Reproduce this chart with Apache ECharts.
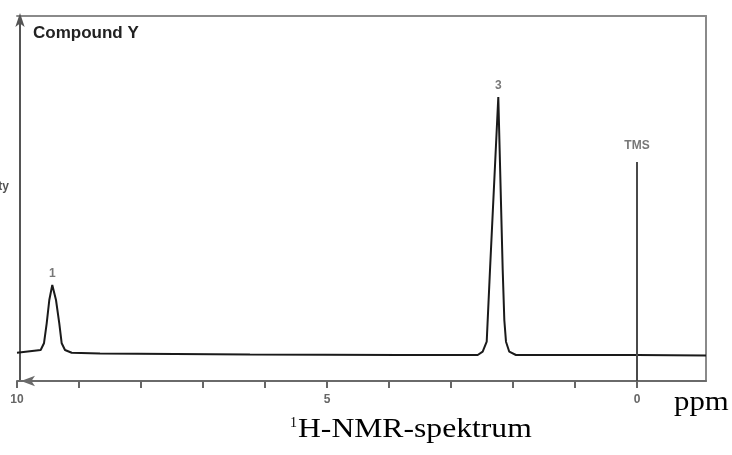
<!DOCTYPE html>
<html><head><meta charset="utf-8">
<script src="https://cdn.jsdelivr.net/npm/echarts@6/dist/echarts.min.js"></script>
<style>html,body{margin:0;padding:0;background:#fff}#c{width:732px;height:455px}</style>
</head><body><div id="c"></div>
<script>
// Spectrum trace: chemical shift (ppm) and intensity (arbitrary units, 0-100)
const spectrumPpm = [10, 9.618, 9.565, 9.521, 9.479, 9.431, 9.371, 9.318, 9.279, 9.226, 9.118, 8.661, 6.242, 3.823, 2.694, 2.569, 2.489, 2.424, 2.408, 2.371, 2.237, 2.166, 2.140, 2.113, 2.060, 1.952, 1.242, 0, -1.113];
const spectrumIntensity = [7.75, 8.49, 10.33, 15.81, 22.19, 26.30, 22.19, 15.81, 10.33, 8.49, 7.75, 7.53, 7.26, 7.12, 7.12, 7.12, 8.03, 10.77, 16.71, 30.41, 77.81, 30.41, 16.71, 10.77, 8.03, 7.12, 7.12, 7.12, 6.99];
// TMS reference line
const tmsPpm = [0, 0];
const tmsIntensity = [60, 0];
// Peak annotations
const peakLabels = ['1', '3', 'TMS'];
const peakPpm = [9.431, 2.237, 0];
const peakIntensity = [26.30, 77.81, 60];
// Axis ticks and labels
const tickValues = [0, 1, 2, 3, 4, 5, 6, 7, 8, 9, 10];
const tickLabelValues = [0, 5, 10];
const xMin = -1.113, xMax = 10;

const chart = echarts.init(document.getElementById('c'), null, {renderer: 'canvas'});
const sans = '"Liberation Sans", Arial, sans-serif';
const serif = '"Liberation Serif", "Times New Roman", serif';

const option = {
  backgroundColor: '#ffffff',
  animation: false,
  grid: {left: 17, right: 26, top: 16, bottom: 74},
  xAxis: [{
    type: 'value', inverse: true, min: xMin, max: xMax, position: 'bottom',
    splitLine: {show: false},
    axisLine: {show: true, onZero: false, lineStyle: {color: '#6a6a6a', width: 2}, symbol: ['arrow', 'none'], symbolSize: [8, 14], symbolOffset: [4, 0]},
    axisTick: {show: true, inside: false, length: 7, customValues: tickValues, lineStyle: {color: '#666', width: 2}},
    axisLabel: {show: true, customValues: tickLabelValues, margin: 13, color: '#666', fontFamily: sans, fontWeight: 'bold', fontSize: 12}
  }, {
    type: 'value', inverse: true, min: xMin, max: xMax, position: 'top',
    splitLine: {show: false},
    axisLine: {show: true, onZero: false, lineStyle: {color: '#8a8a8a', width: 2}},
    axisTick: {show: false}, axisLabel: {show: false}
  }],
  yAxis: [{
    type: 'value', min: 0, max: 100, position: 'left', offset: -3,
    splitLine: {show: false},
    axisLine: {show: true, onZero: false, lineStyle: {color: '#555', width: 2}, symbol: ['none', 'arrow'], symbolSize: [7, 14], symbolOffset: [0, 3]},
    axisTick: {show: false}, axisLabel: {show: false}
  }, {
    type: 'value', min: 0, max: 100, position: 'right',
    splitLine: {show: false},
    axisLine: {show: true, onZero: false, lineStyle: {color: '#8a8a8a', width: 2}},
    axisTick: {show: false}, axisLabel: {show: false}
  }],
  series: [{
    type: 'line', xAxisIndex: 0, yAxisIndex: 0,
    data: spectrumPpm.map((p, i) => [p, spectrumIntensity[i]]),
    symbol: 'none', smooth: false,
    lineStyle: {color: '#1a1a1a', width: 2}, z: 3
  }, {
    type: 'line', xAxisIndex: 0, yAxisIndex: 0,
    data: tmsPpm.map((p, i) => [p, tmsIntensity[i]]),
    symbol: 'none',
    lineStyle: {color: '#4a4a4a', width: 2}, z: 3
  }, {
    type: 'scatter', xAxisIndex: 0, yAxisIndex: 0,
    symbolSize: 0,
    data: peakLabels.map((t, i) => ({
      name: t, value: [peakPpm[i], peakIntensity[i]],
      label: {distance: t === 'TMS' ? 10 : 5}
    })),
    label: {show: true, position: 'top', formatter: p => p.name, color: '#555', fontFamily: sans, fontWeight: 'bold', fontSize: 12},
    z: 4
  }],
  graphic: [
    {type: 'text', left: 33, top: 25, style: {text: 'Compound Y', font: 'bold 17px ' + sans, fill: '#222'}},
    {type: 'text', x: 9, y: 187, style: {text: 'Intensity', font: 'bold 12px ' + sans, fill: '#555', align: 'right', verticalAlign: 'middle'}},
    {type: 'text', x: 674, y: 389, scaleX: 1.1, style: {text: 'ppm', font: '28px ' + serif, fill: '#000'}},
    {type: 'text', x: 290, y: 416, style: {text: '1', font: '14px ' + serif, fill: '#000'}},
    {type: 'text', x: 298, y: 416, scaleX: 1.13, style: {text: 'H-NMR-spektrum', font: '28px ' + serif, fill: '#000'}}
  ]
};
chart.setOption(option);
</script>
</body></html>
